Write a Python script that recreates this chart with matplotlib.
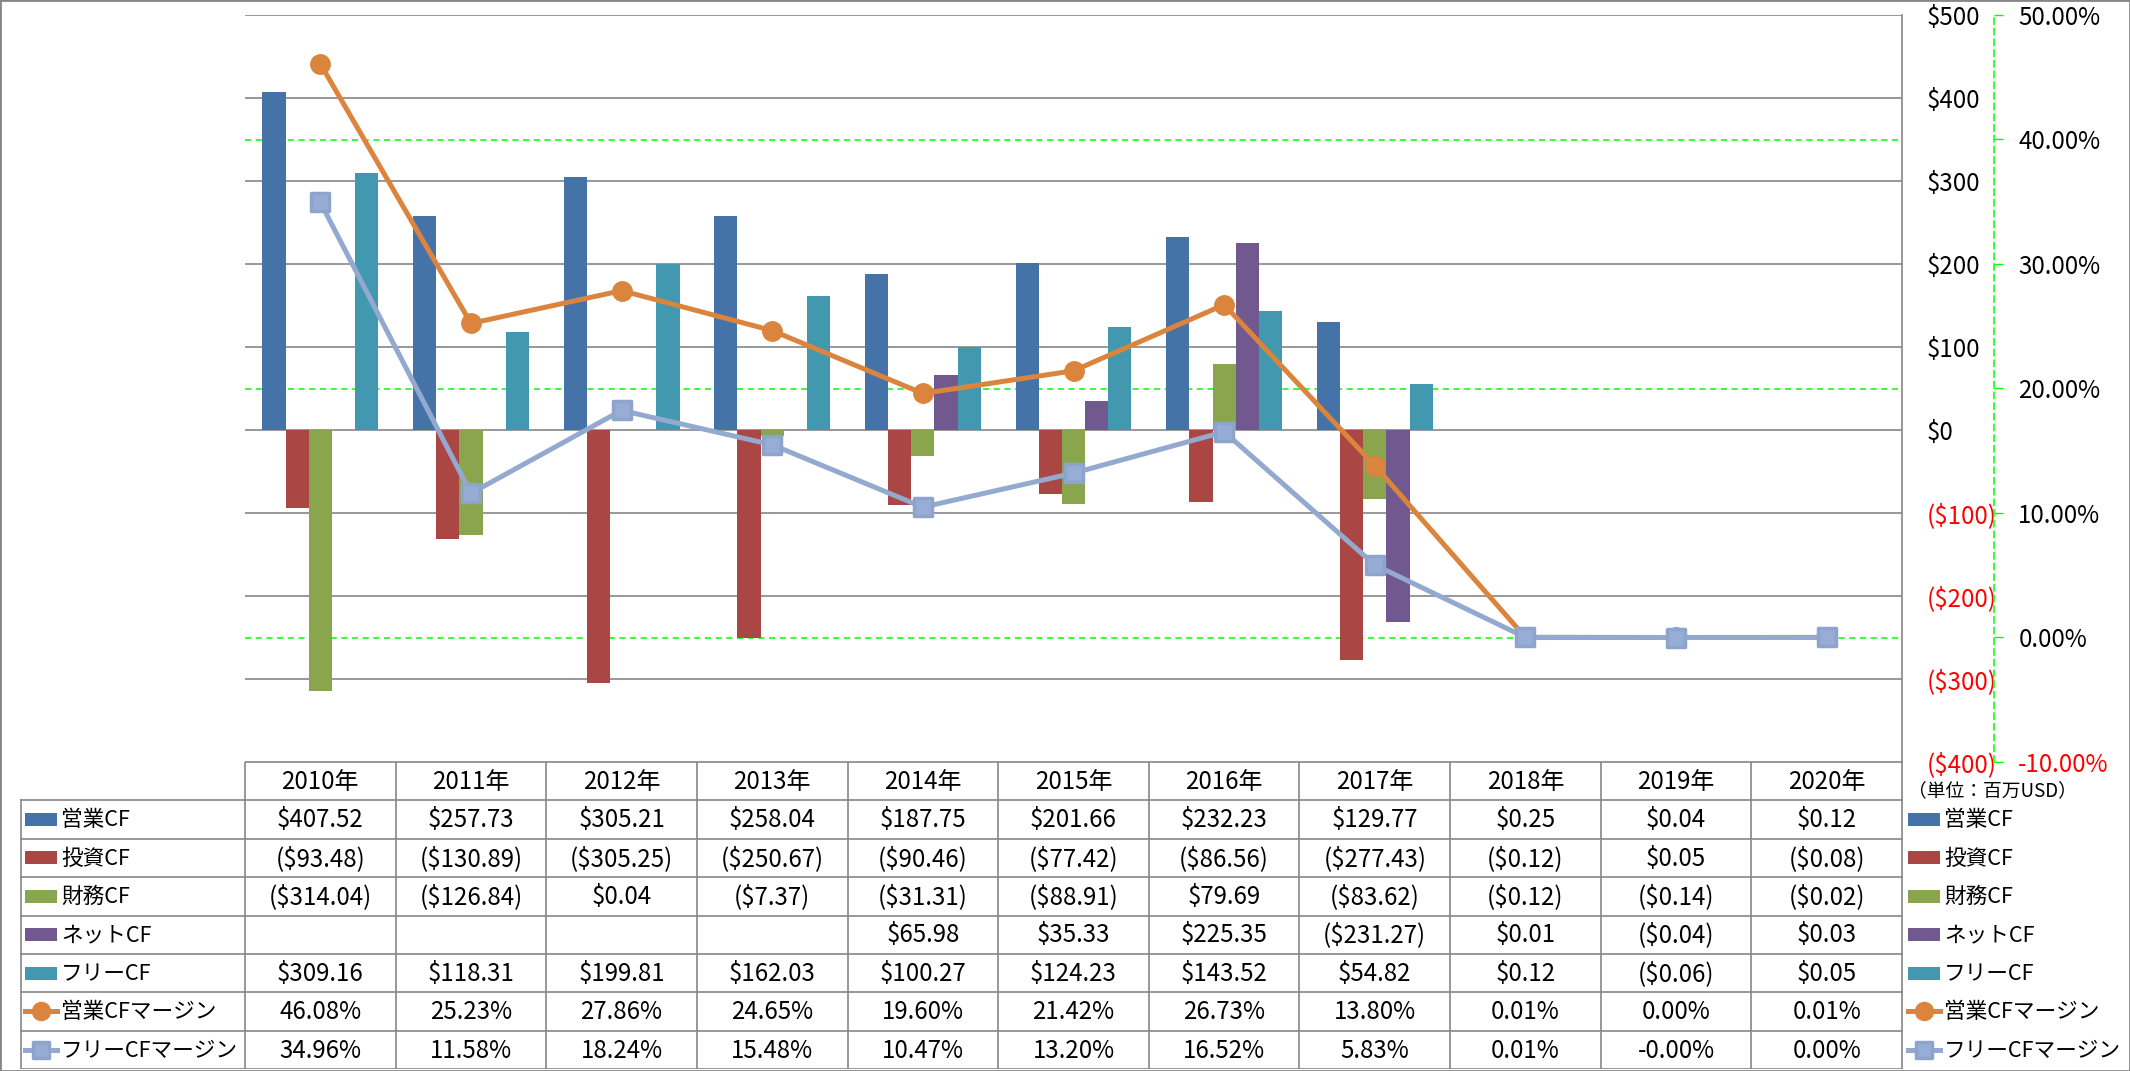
import numpy as np
import matplotlib
matplotlib.use('Agg')
import matplotlib.pyplot as plt
from matplotlib.ticker import FixedLocator, FuncFormatter
from matplotlib.markers import MarkerStyle
import matplotlib.transforms as mtransforms
from matplotlib.patches import Rectangle
from matplotlib.lines import Line2D

plt.rcParams['font.family'] = ['Noto Sans CJK JP', 'DejaVu Sans']

# ---------------- data ----------------
years = ['2010年', '2011年', '2012年', '2013年', '2014年', '2015年',
         '2016年', '2017年', '2018年', '2019年', '2020年']
bar_names = ['営業CF', '投資CF', '財務CF', 'ネットCF', 'フリーCF']
op_cf = [407.52, 257.73, 305.21, 258.04, 187.75, 201.66, 232.23, 129.77, 0.25, 0.04, 0.12]
inv_cf = [-93.48, -130.89, -305.25, -250.67, -90.46, -77.42, -86.56, -277.43, -0.12, 0.05, -0.08]
fin_cf = [-314.04, -126.84, 0.04, -7.37, -31.31, -88.91, 79.69, -83.62, -0.12, -0.14, -0.02]
net_cf = [np.nan, np.nan, np.nan, np.nan, 65.98, 35.33, 225.35, -231.27, 0.01, -0.04, 0.03]
free_cf = [309.16, 118.31, 199.81, 162.03, 100.27, 124.23, 143.52, 54.82, 0.12, -0.06, 0.05]
line_names = ['営業CFマージン', 'フリーCFマージン']
op_margin = [46.08, 25.23, 27.86, 24.65, 19.60, 21.42, 26.73, 13.80, 0.01, 0.00, 0.01]
free_margin = [34.96, 11.58, 18.24, 15.48, 10.47, 13.20, 16.52, 5.83, 0.01, -0.001, 0.00]
usd_ticks = [-400, -300, -200, -100, 0, 100, 200, 300, 400, 500]
pct_ticks = [-10, 0, 10, 20, 30, 40, 50]
pct_grid = [0, 20, 40]
unit_label = '（単位：百万USD）'

bar_series = [op_cf, inv_cf, fin_cf, net_cf, free_cf]
bar_colors = ['#4572A7', '#AA4643', '#89A54E', '#71588F', '#4198AF']
orange = '#DB843D'
lblue = '#93A9CF'
grid_gray = '#868686'
lime = '#00FF00'
FS = 17.3      # numbers / headers / ticks
FSL = 15.6     # legend labels

# ---------------- layout (pixels) ----------------
W, H = 2130, 1071
PL, PR, PT, PB = 245, 1902, 15, 762
TB = 1069
LEG_L = 21

fig = plt.figure(figsize=(W / 100, H / 100), dpi=100)


def fx(px):
    return px / W


def fy(py):
    return 1 - py / H


n = len(years)
cw = (PR - PL) / n
x = np.arange(n)

ax = fig.add_axes([fx(PL), fy(PB), (PR - PL) / W, (PB - PT) / H])
ax2 = ax.twinx()

nb = len(bar_series)
bw = 1 / (nb + 1.5)
for k, (vals, col) in enumerate(zip(bar_series, bar_colors)):
    offs = (k - (nb - 1) / 2) * bw
    ax.bar(x + offs, np.array(vals, float), width=bw, color=col, zorder=3, linewidth=0)

# green dashed gridlines of the secondary axis, behind bars
gtrans = mtransforms.blended_transform_factory(ax.transAxes, ax2.transData)
for g in pct_grid:
    ax.add_line(Line2D([0, 1], [g, g], transform=gtrans, color=lime, lw=1.1,
                       ls=(0, (4, 3)), zorder=1))

ax.set_xlim(-0.5, n - 0.5)
ax.set_ylim(usd_ticks[0], usd_ticks[-1])
ax.yaxis.set_major_locator(FixedLocator(usd_ticks))
ax.yaxis.set_major_formatter(FuncFormatter(lambda v, p: f'${v:.0f}' if v >= 0 else f'(${-v:.0f})'))
ax.yaxis.tick_right()
ax.tick_params(axis='y', length=0, pad=18, labelsize=FS)
ax.set_xticks([])
ax.grid(axis='y', color=grid_gray, lw=1.2)
ax.set_axisbelow(True)
for s in ['left', 'top', 'bottom']:
    ax.spines[s].set_visible(False)
ax.spines['right'].set_color(grid_gray)
ax.spines['right'].set_linewidth(1.2)

# lines on secondary axis
ax2.plot(x, op_margin, color=orange, lw=3.6, marker='o', ms=14,
         mfc=orange, mec=orange, zorder=5, solid_capstyle='round')
sq = MarkerStyle('s', joinstyle='round')
ax2.plot(x, free_margin, color=lblue, lw=3.6, marker=sq, ms=13,
         mfc='#98ADD5', mec='#8DA4CD', mew=2.5, zorder=6)
ax2.set_ylim(pct_ticks[0], pct_ticks[-1])
ax2.set_xlim(-0.5, n - 0.5)
ax2.yaxis.set_major_locator(FixedLocator(pct_ticks))
ax2.yaxis.set_major_formatter(FuncFormatter(lambda v, p: f'{v:.2f}%'))
for s in ['left', 'top', 'bottom']:
    ax2.spines[s].set_visible(False)
ax2.spines['right'].set_position(('axes', (1994 - PL) / (PR - PL)))
ax2.spines['right'].set_color(lime)
ax2.spines['right'].set_linestyle((0, (4, 3)))
ax2.spines['right'].set_linewidth(1.1)
ax2.tick_params(axis='y', length=6.5, width=1, color=lime, pad=11, labelsize=FS)

# ---------------- data table ----------------
tax = fig.add_axes([0, fy(TB), 1, (TB - PB) / H])
tax.set_xlim(-0.5 - PL / cw, n - 0.5 + (W - PR) / cw)
nrows = 1 + len(bar_names) + len(line_names)
tax.set_ylim(nrows, 0)
tax.axis('off')
xl = -0.5 - (PL - LEG_L) / cw
xr = n - 0.5
lkw = dict(color=grid_gray, lw=1.2)
tax.plot([-0.5, xr], [0, 0], **lkw)
for r in range(1, nrows + 1):
    tax.plot([xl, xr], [r, r], **lkw)
for k in range(n + 1):
    tax.plot([-0.5 + k, -0.5 + k], [0, nrows], **lkw)
tax.plot([xl, xl], [1, nrows], **lkw)

for i, yl in enumerate(years):
    tax.text(i, 0.52, yl, ha='center', va='center', fontsize=FS)


def money(v):
    if v is None or (isinstance(v, float) and np.isnan(v)):
        return ''
    return f'${v:.2f}' if v >= 0 else f'(${-v:.2f})'


for r, vals in enumerate(bar_series, start=1):
    for i, v in enumerate(vals):
        tax.text(i, r + 0.52, money(v), ha='center', va='center', fontsize=FS)
for r, vals in enumerate([op_margin, free_margin], start=1 + nb):
    for i, v in enumerate(vals):
        tax.text(i, r + 0.52, f'{v:.2f}%', ha='center', va='center', fontsize=FS)


def legend_key(x0, r, idx):
    sw0 = x0
    sw1 = x0 + 32 / cw
    if idx < nb:
        h = 13 / 38.4
        tax.add_patch(Rectangle((sw0, r + 0.5 - h / 2), sw1 - sw0, h,
                                color=bar_colors[idx], lw=0))
    elif idx == nb:
        tax.plot([sw0, sw1], [r + 0.5, r + 0.5], color=orange, lw=3.6)
        tax.plot([(sw0 + sw1) / 2], [r + 0.5], marker='o', ms=13, color=orange)
    else:
        tax.plot([sw0, sw1], [r + 0.5, r + 0.5], color=lblue, lw=3.6)
        tax.plot([(sw0 + sw1) / 2], [r + 0.5], marker=sq, ms=12,
                 mfc='#98ADD5', mec='#8DA4CD', mew=2.5)


all_names = bar_names + line_names
for idx, name in enumerate(all_names):
    r = idx + 1
    legend_key(xl + 4 / cw, r, idx)
    tax.text(xl + 40 / cw, r + 0.52, name, ha='left', va='center', fontsize=FSL)
    legend_key(xr + 6 / cw, r, idx)
    tax.text(xr + 42 / cw, r + 0.52, name, ha='left', va='center', fontsize=FSL)

tax.text(xr + 6 / cw, 0.76, unit_label, ha='left', va='center', fontsize=13.5)

# figure border
fig.patches.append(Rectangle((0, 0), 1, 1, transform=fig.transFigure, fill=False,
                             edgecolor=grid_gray, lw=2))

fig.canvas.draw()
for t in ax.yaxis.get_major_ticks():
    t.label2.set_color('#FF0000' if t.get_loc() < 0 else 'black')
for t in ax2.yaxis.get_major_ticks():
    t.label2.set_color('#FF0000' if t.get_loc() < 0 else 'black')

fig.savefig('out.png', dpi=100)
